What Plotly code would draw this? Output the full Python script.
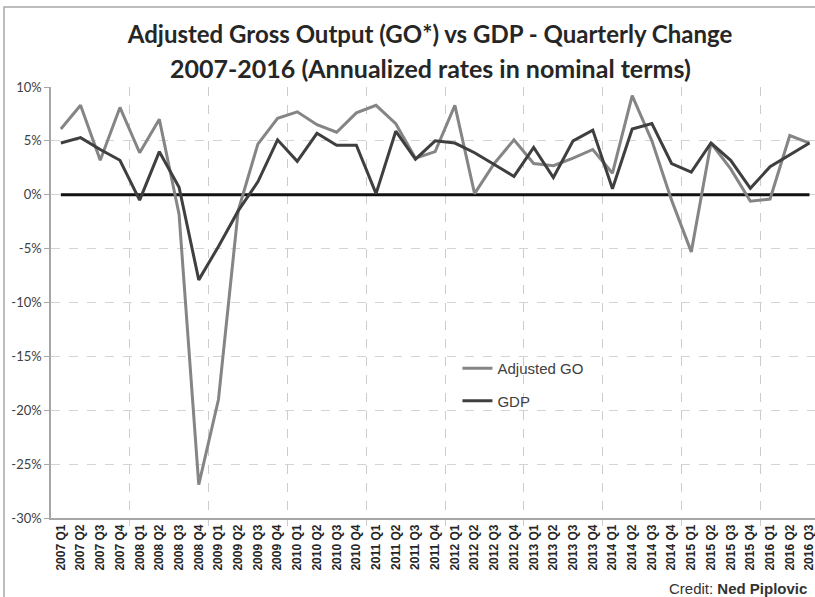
import plotly.graph_objects as go

quarters = [f"{y} Q{q}" for y in range(2007, 2017) for q in range(1, 5)][:39]

adjusted_go = [6.1, 8.3, 3.2, 8.1, 3.9, 7.0, -1.8, -26.9,
               -19.0, -1.5, 4.7, 7.1, 7.7, 6.5, 5.8, 7.6,
               8.3, 6.6, 3.4, 4.0, 8.3, 0.1, 2.9, 5.1,
               2.9, 2.7, 3.4, 4.2, 2.0, 9.2, 5.0, -0.5,
               -5.3, 4.8, 2.4, -0.6, -0.4, 5.5, 4.8]

gdp = [4.8, 5.3, 4.2, 3.2, -0.5, 4.0, 0.7, -7.9,
       -4.8, -1.5, 1.2, 5.1, 3.1, 5.7, 4.6, 4.6,
       0.1, 5.9, 3.3, 5.0, 4.8, 3.9, 2.8, 1.7,
       4.4, 1.6, 5.0, 6.0, 0.55, 6.1, 6.6, 2.9,
       2.1, 4.8, 3.2, 0.6, 2.6, 3.7, 4.8]

zero_line = [0] * len(quarters)

y_ticks = [-30, -25, -20, -15, -10, -5, 0, 5, 10]
y_tick_labels = [f"{v}%" for v in y_ticks]

idx = list(range(len(quarters)))
year_bounds = [i - 0.5 for i in idx if i > 0 and i % 4 == 0]

fig = go.Figure()
fig.add_trace(go.Scatter(x=idx, y=zero_line, mode="lines",
                         line=dict(color="#111111", width=3),
                         showlegend=False, hoverinfo="skip"))
fig.add_trace(go.Scatter(x=idx, y=adjusted_go, mode="lines", name="Adjusted GO",
                         legendgroup="a",
                         line=dict(color="#858585", width=3)))
fig.add_trace(go.Scatter(x=idx, y=gdp, mode="lines", name="GDP",
                         legendgroup="b",
                         line=dict(color="#3f3f3f", width=3)))

fig.update_layout(
    width=815, height=597,
    margin=dict(l=51, r=0, t=87, b=79),
    paper_bgcolor="white", plot_bgcolor="white",
    title=dict(text="<b>Adjusted Gross Output (GO*) vs GDP - Quarterly Change</b>",
               x=430 / 815, xanchor="center", xref="container",
               y=1 - 35 / 597, yanchor="middle", yref="container",
               font=dict(family="Lato", size=24, color="#262626")),
    annotations=[
        dict(text="<b>2007-2016 (Annualized rates in nominal terms)</b>",
             x=(430 - 51) / 764, xref="paper", xanchor="center",
             y=1 + (87 - 68) / 431, yref="paper", yanchor="middle",
             showarrow=False, font=dict(family="Lato", size=25, color="#262626")),
        dict(text="Credit: <b>Ned Piplovic</b>",
             x=(809 - 51) / 764, xref="paper", xanchor="right",
             y=(518 - 588) / 431, yref="paper", yanchor="middle",
             showarrow=False, font=dict(family="Liberation Sans", size=15, color="#333333")),
    ],
    shapes=[dict(type="rect", xref="paper", yref="paper",
                 x0=(4 - 51) / 764, x1=1.2, y0=-0.4, y1=1 + (87 - 7) / 431,
                 line=dict(color="#a8a8a8", width=1.5), fillcolor="rgba(0,0,0,0)",
                 layer="below")],
    legend=dict(x=0.532, y=0.385, xanchor="left", yanchor="top",
                bgcolor="rgba(0,0,0,0)", tracegroupgap=10,
                font=dict(family="Liberation Sans", size=15, color="#404040")),
    showlegend=True,
)

fig.update_xaxes(
    range=[-0.5, 38.28], tickmode="array", tickvals=idx,
    ticktext=[f"<b>{q}</b>" for q in quarters], tickangle=-90,
    tickfont=dict(family="Liberation Sans", size=12, color="#262626"),
    ticklabeloverflow="allow",
    showgrid=False, zeroline=False, ticks="",
    showline=True, linecolor="#a6a6a6", linewidth=1.5,
    minor=dict(tickmode="array", tickvals=year_bounds, showgrid=True,
               griddash="dash", gridcolor="#cccccc", gridwidth=1,
               ticks="outside", ticklen=6, tickcolor="#cccccc"),
)
fig.update_yaxes(
    range=[-30, 10], tickmode="array", tickvals=y_ticks, ticktext=y_tick_labels,
    tickfont=dict(family="Lato", size=13, color="#404040"),
    showgrid=True, griddash="dash", gridcolor="#d4d4d4", gridwidth=1,
    zeroline=False, showline=True, linecolor="#a6a6a6", linewidth=1.5,
    ticks="outside", ticklen=5, tickcolor="#a6a6a6",
)

fig.write_html("out.html", config={"displayModeBar": False},
               post_script="document.body.style.margin='0';document.body.style.overflow='hidden';")
